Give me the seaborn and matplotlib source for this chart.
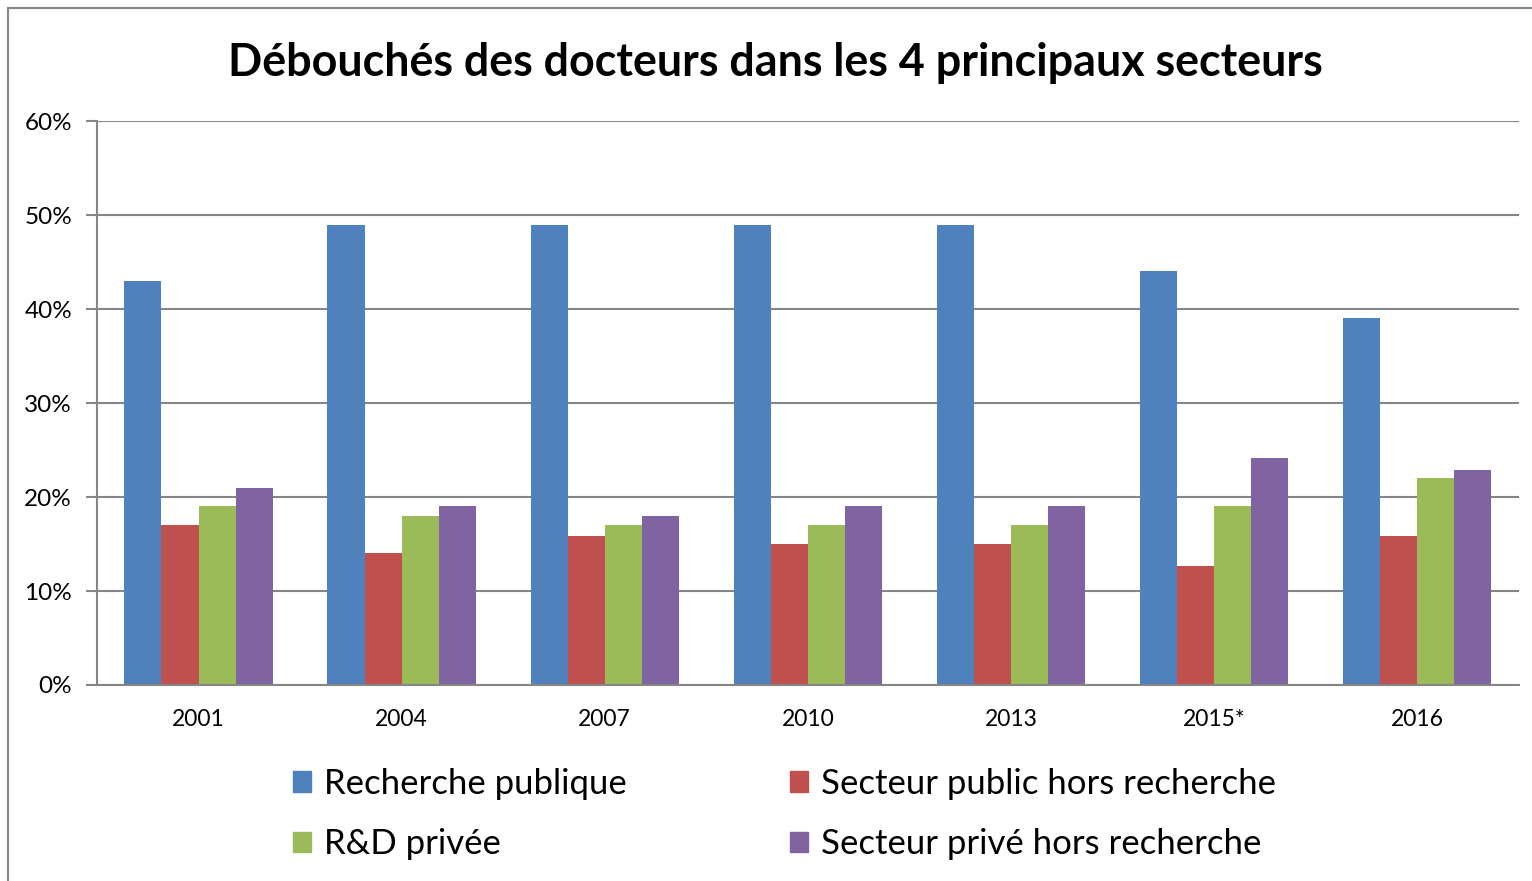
import matplotlib
matplotlib.use('Agg')
import matplotlib.pyplot as plt
import seaborn as sns
import pandas as pd
from matplotlib.patches import Rectangle, Patch
from matplotlib.ticker import PercentFormatter

years = ["2001", "2004", "2007", "2010", "2013", "2015*", "2016"]
series = ["Recherche publique", "Secteur public hors recherche",
          "R&D privée", "Secteur privé hors recherche"]
recherche_publique = [0.43, 0.49, 0.49, 0.49, 0.49, 0.44, 0.39]
public_hors_recherche = [0.17, 0.14, 0.159, 0.15, 0.15, 0.127, 0.159]
rd_privee = [0.19, 0.18, 0.17, 0.17, 0.17, 0.19, 0.22]
prive_hors_recherche = [0.21, 0.19, 0.18, 0.19, 0.19, 0.242, 0.229]
colors = ["#4F81BD", "#C0504D", "#9BBB59", "#8064A2"]

rows = []
for name, vals in zip(series, [recherche_publique, public_hors_recherche,
                               rd_privee, prive_hors_recherche]):
    for y, v in zip(years, vals):
        rows.append({"annee": y, "secteur": name, "part": v})
df = pd.DataFrame(rows)

sns.set_style("white")
plt.rcParams['font.family'] = ['Lato', 'DejaVu Sans']
plt.rcParams['text.color'] = 'black'
plt.rcParams['xtick.labelcolor'] = 'black'
plt.rcParams['ytick.labelcolor'] = 'black'

fig = plt.figure(figsize=(15.32, 8.81), dpi=100)
ax = fig.add_axes([0.0633, 0.2225, 0.928, 0.640])

sns.barplot(data=df, x="annee", y="part", hue="secteur", order=years,
            hue_order=series, palette=colors, width=0.73, saturation=1,
            linewidth=0, ax=ax, legend=False)

ax.set_xlim(-0.5, 6.5)
ax.set_ylim(0, 0.6)
ax.set_yticks([i / 10 for i in range(7)])
ax.yaxis.set_major_formatter(PercentFormatter(1.0, decimals=0))
ax.yaxis.grid(True, color="#868686", linewidth=1.5)
ax.set_axisbelow(True)
ax.set_xlabel("")
ax.set_ylabel("")

ax.set_xticks(range(len(years)))
ax.set_xticks([i - 0.5 for i in range(len(years) + 1)], minor=True)
ax.tick_params(axis="x", which="major", length=0, labelsize=16.5, pad=17)
ax.tick_params(axis="x", which="minor", length=8, width=1.5, color="#868686",
               direction="out")
ax.tick_params(axis="y", length=8, width=1.5, color="#868686", labelsize=17.5,
               pad=10, left=True)

for s in ["top", "right"]:
    ax.spines[s].set_visible(False)
for s in ["left", "bottom"]:
    ax.spines[s].set_color("#868686")
    ax.spines[s].set_linewidth(1.5)

fig.text(0.506, 0.929, "Débouchés des docteurs dans les 4 principaux secteurs",
         ha="center", va="center", fontsize=32.3, fontweight="bold")

handles = [Patch(color=c) for c in colors]
order = [0, 2, 1, 3]
fig.legend([handles[i] for i in order], [series[i] for i in order],
           ncol=2, loc="center", bbox_to_anchor=(0.512, 0.076),
           frameon=False, fontsize=25, handlelength=0.52, handleheight=0.52,
           handletextpad=0.37, columnspacing=4.7, labelspacing=0.82)

fig.patches.append(Rectangle((8 / 1532, -0.01), 1.05, 1 - 8 / 881 + 0.01,
                             transform=fig.transFigure, fill=False,
                             edgecolor="#868686", linewidth=1.5))

fig.savefig("out.png", dpi=100)
